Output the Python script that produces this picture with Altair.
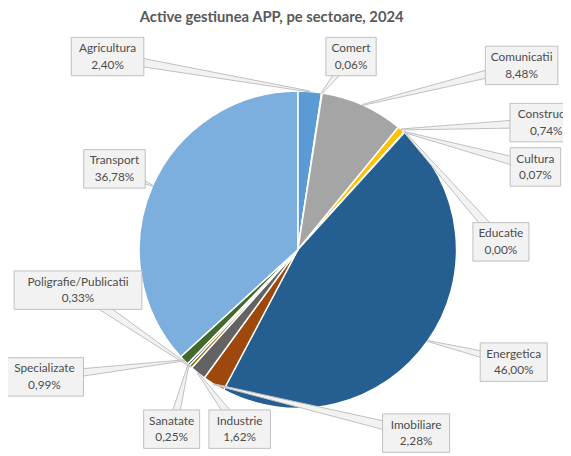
import altair as alt
import pandas as pd
import numpy as np

# ---- data ----
sectors = ["Agricultura", "Comert", "Comunicatii", "Constructii", "Cultura",
           "Educatie", "Energetica", "Imobiliare", "Industrie",
           "Poligrafie/Publicatii", "Sanatate", "Specializate", "Transport"]
shares = [2.40, 0.06, 8.48, 0.74, 0.07, 0.00, 46.00, 2.28, 1.62, 0.33, 0.25, 0.99, 36.78]
colors = ["#5B9BD5", "#ED7D31", "#A5A5A5", "#FFC000", "#4472C4", "#70AD47",
          "#255E91", "#9E480E", "#636363", "#997300", "#264478", "#43682B", "#7CAFDD"]
title_text = "Active gestiunea APP, pe sectoare, 2024"

# ---- layout (page pixels) ----
W, H = 563, 418
PAD_TOP = 30
OX, OY = 8, 8 + PAD_TOP
CX, CY, R = 302 - OX, 250 - OY, 161
label_centers = {
    "Agricultura": (109, 54), "Comert": (356, 54), "Comunicatii": (529, 63),
    "Constructii": (554, 121), "Cultura": (543, 166), "Educatie": (508, 242),
    "Energetica": (521, 364), "Imobiliare": (422, 436), "Industrie": (243, 432),
    "Sanatate": (174, 432), "Specializate": (45, 379),
    "Poligrafie/Publicatii": (79, 291), "Transport": (116, 168),
}
BOX_H = 39

pct_labels = [f"{v:.2f}".replace(".", ",") + "%" for v in shares]
pie_df = pd.DataFrame({"sector": sectors, "share": shares, "idx": range(len(sectors))})

vals = np.array(shares)
cum = np.cumsum(vals)
mid = (cum - vals / 2) / vals.sum() * 2 * np.pi
tip_x = CX + R * np.sin(mid)
tip_y = CY - R * np.cos(mid)

trail_rows, box_rows = [], []
for i, s in enumerate(sectors):
    px, py = label_centers[s]
    bx, by = px - OX, py - OY
    trail_rows.append({"sector": s, "step": 0, "x": bx, "y": by, "w": 10})
    trail_rows.append({"sector": s, "step": 1, "x": tip_x[i], "y": tip_y[i], "w": 0})
    bw = max(5.6 * max(len(s), len(pct_labels[i])) + 12, 51)
    box_rows.append({"sector": s, "x": bx - bw / 2, "x2": bx + bw / 2,
                     "y": by - BOX_H / 2, "y2": by + BOX_H / 2,
                     "cx": bx, "cy": by, "txt": s + "\n" + pct_labels[i]})
trail_df = pd.DataFrame(trail_rows)
box_df = pd.DataFrame(box_rows)

pie = alt.Chart(pie_df).mark_arc(outerRadius=R, stroke="white", strokeWidth=1.5).encode(
    theta=alt.Theta("share:Q", stack=True),
    order=alt.Order("idx:Q"),
    color=alt.Color("sector:N", scale=alt.Scale(domain=sectors, range=colors), legend=None),
    x=alt.value(CX), y=alt.value(CY),
)

wedges = alt.Chart(trail_df).mark_trail(fill="#F2F2F2", stroke="#BFBFBF", strokeWidth=1).encode(
    x=alt.X("x:Q", scale=None, axis=None),
    y=alt.Y("y:Q", scale=None, axis=None),
    size=alt.Size("w:Q", scale=None, legend=None),
    detail="sector:N",
    order=alt.Order("step:Q"),
)

boxes = alt.Chart(box_df).mark_rect(fill="#F2F2F2", stroke="#BFBFBF", strokeWidth=1).encode(
    x=alt.X("x:Q", scale=None, axis=None), x2="x2:Q",
    y=alt.Y("y:Q", scale=None, axis=None), y2="y2:Q",
)

texts = alt.Chart(box_df).mark_text(font="Lato", fontSize=12, color="#4D4D4D",
                                    lineBreak="\n", lineHeight=17, align="center",
                                    baseline="middle", dy=-8.5).encode(
    x=alt.X("cx:Q", scale=None, axis=None),
    y=alt.Y("cy:Q", scale=None, axis=None),
    text="txt:N",
)

chart = alt.layer(pie, wedges, boxes, texts).properties(
    width=W, height=H,
    autosize=alt.AutoSizeParams(type="none"),
    padding={"left": 0, "top": PAD_TOP, "right": 0, "bottom": 0},
    title=alt.Title(title_text, font="Lato", fontSize=15, fontWeight="bold",
                    color="#595959", anchor="middle", dx=-14, offset=12),
).configure_view(stroke=None)

chart.save("out.html", embed_options={"renderer": "svg", "actions": False})
